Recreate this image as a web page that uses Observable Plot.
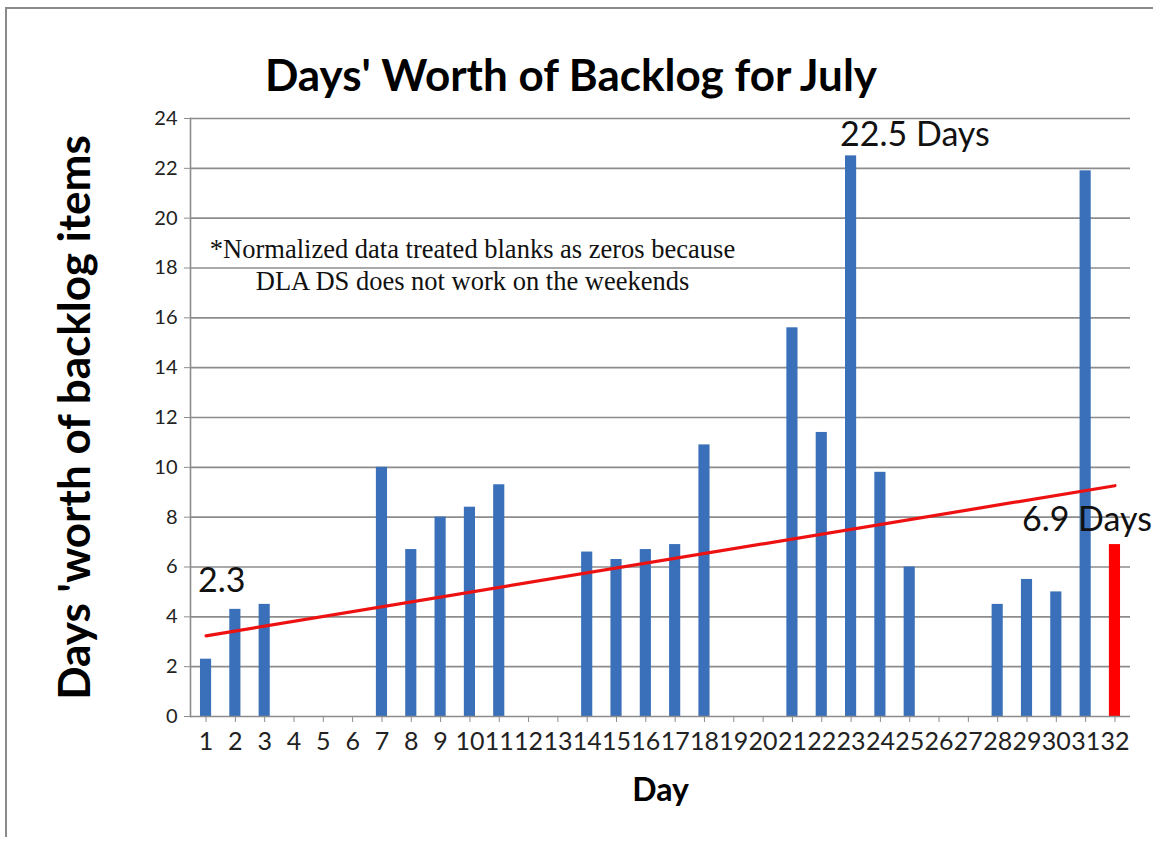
<!DOCTYPE html>
<html>
<head>
<meta charset="utf-8">
<script src="https://cdn.jsdelivr.net/npm/d3@7"></script>
<script src="https://cdn.jsdelivr.net/npm/@observablehq/plot@0.6"></script>
<style>
  html, body { margin: 0; padding: 0; background: #fff; }
  #wrap { position: relative; width: 1153px; height: 841px; overflow: hidden; }
  #border { position: absolute; left: 5px; top: 7px; width: 1160px; height: 828px; border-left: 2px solid #8a8a8a; border-top: 2px solid #8a8a8a; }
  #title { position: absolute; left: 0; top: 48px; width: 1142px; text-align: center;
    font-family: Lato, "Open Sans", sans-serif;
    font-weight: bold; font-size: 44px; line-height: 52px; color: #000; }
  #chart { position: absolute; left: 0; top: 100px; }
</style>
</head>
<body>
<div id="wrap">
  <div id="border"></div>
  <div id="title">Days' Worth of Backlog for July</div>
  <div id="chart"></div>
</div>
<script>
const days = d3.range(1, 33);
const values = [2.3, 4.3, 4.5, 0, 0, 0, 10.0, 6.7, 8.0, 8.4, 9.3, 0, 0, 6.6, 6.3, 6.7, 6.9, 10.9, 0, 0, 15.6, 11.4, 22.5, 9.8, 6.0, 0, 0, 4.5, 5.5, 5.0, 21.9, 6.9];
const highlightDay = 32;
const yTicks = [0, 2, 4, 6, 8, 10, 12, 14, 16, 18, 20, 22, 24];
const labels = [
  {day: 1, value: 2.3, text: "2.3"},
  {day: 23, value: 22.5, text: "22.5 Days"},
  {day: 32, value: 6.9, text: "6.9 Days"}
];
const noteText = "*Normalized data treated blanks as zeros because\nDLA DS does not work on the weekends";
const yLabel = "Days 'worth of backlog items";
const xLabel = "Day";

const data = days.map((d, i) => ({day: d, value: values[i], red: d === highlightDay}));

// least-squares trend over all days (blanks as zeros)
const mx = d3.mean(data, d => d.day), my = d3.mean(data, d => d.value);
const slope = d3.sum(data, d => (d.day - mx) * (d.value - my)) / d3.sum(data, d => (d.day - mx) ** 2);
const trend = [days[0], days[days.length - 1]].map(d => ({day: d, value: my + slope * (d - mx)}));

const sans = "Lato, 'Open Sans', sans-serif";

const plot = Plot.plot({
  width: 1153,
  height: 741,
  marginTop: 18,
  marginBottom: 125,
  marginLeft: 190,
  marginRight: 23,
  style: {fontFamily: sans, background: "transparent", overflow: "visible"},
  x: {type: "band", domain: days, paddingInner: 0.62, paddingOuter: 0.34, round: false, label: null},
  y: {domain: [0, 24], ticks: yTicks, label: null},
  marks: [
    Plot.gridY(yTicks.filter(t => t > 0), {stroke: "#8c8c8c", strokeOpacity: 1, strokeWidth: 1.6}),
    Plot.barY(data, {x: "day", y: "value", fill: d => d.red ? "#ff0000" : "#3a70b9"}),
    Plot.ruleY([0], {stroke: "#8c8c8c", strokeWidth: 1.6}),
    Plot.frame({anchor: "left", stroke: "#8c8c8c", strokeWidth: 1.6}),
    Plot.axisY({ticks: yTicks, tickSize: 6, tickPadding: 7, fontSize: 20, stroke: "#8c8c8c", color: "#222", label: null}),
    Plot.axisX({tickSize: 6, tickPadding: 10, fontSize: 25, stroke: "#8c8c8c", color: "#222", label: null}),
    Plot.line(trend, {x: "day", y: "value", stroke: "#ee1111", strokeWidth: 3.2}),
    Plot.text(labels.slice(0, 1), {x: "day", y: "value", text: "text", textAnchor: "start", dx: -8, dy: -78, fontSize: 34, fill: "#111"}),
    Plot.text(labels.slice(1, 2), {x: "day", y: "value", text: "text", textAnchor: "start", dx: -11, dy: -21, fontSize: 34, fill: "#111"}),
    Plot.text(labels.slice(2, 3), {x: "day", y: "value", text: "text", textAnchor: "middle", dx: -28, dy: -24, fontSize: 34, fill: "#111"}),
    Plot.text([noteText], {frameAnchor: "top-left", dx: 282, dy: 145, textAnchor: "middle", lineAnchor: "middle", lineHeight: 1.2, fontSize: 26.5, fontFamily: "'Liberation Serif', 'Times New Roman', serif", fill: "#111"}),
    Plot.text([yLabel], {frameAnchor: "left", dx: -115, rotate: -90, textAnchor: "middle", lineAnchor: "middle", fontSize: 44, fontWeight: "bold", fill: "#000"}),
    Plot.text([xLabel], {frameAnchor: "bottom", dy: 74, textAnchor: "middle", lineAnchor: "middle", fontSize: 32, fontWeight: "bold", fill: "#000"})
  ]
});
document.getElementById("chart").appendChild(plot);
</script>
</body>
</html>
